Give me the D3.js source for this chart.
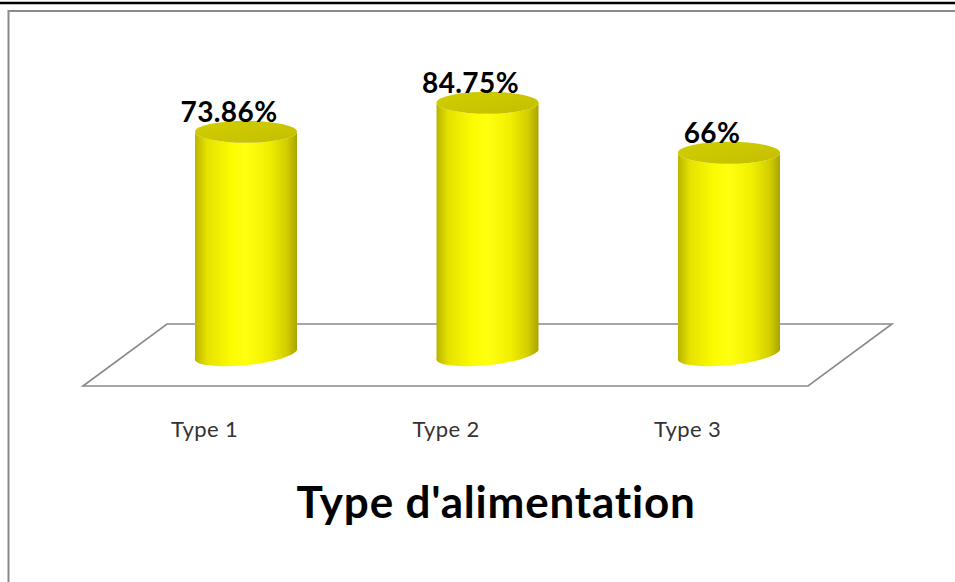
<!DOCTYPE html>
<html>
<head>
<meta charset="utf-8">
<script src="https://cdn.jsdelivr.net/npm/d3@7"></script>
<style>
  html, body { margin: 0; padding: 0; background: #ffffff; }
  svg { display: block; }
</style>
</head>
<body>
<svg id="chart" width="955" height="582"></svg>
<script>
// Data
const categories = ["Type 1", "Type 2", "Type 3"];
const values = [73.86, 84.75, 66];
const valueLabels = ["73.86%", "84.75%", "66%"];
const title = "Type d'alimentation";

const W = 955, H = 582;
const svg = d3.select("#chart");

// Frame: black rule across the top, grey chart border
svg.append("rect").attr("x", 0).attr("y", 0).attr("width", W).attr("height", H).attr("fill", "#ffffff");
svg.append("line").attr("x1", 0).attr("x2", W).attr("y1", 3).attr("y2", 3)
  .attr("stroke", "#000").attr("stroke-width", 2.5);
svg.append("path").attr("d", `M8.5,${H} V11 H${W}`)
  .attr("fill", "none").attr("stroke", "#8a8a8a").attr("stroke-width", 2);

// Scales
const x = d3.scalePoint().domain(categories).range([246, 729]);
const y = d3.scaleLinear().domain([0, 100]).range([329, 62]);

const rx = 51, ry = 11;
const baseY = 356;           // centre of the cylinders' bottom ellipse
const floorBack = 324, floorFront = 386;

// Floor of the 3D plot area
const floor = [[83, floorFront], [167, floorBack], [892, floorBack], [808, floorFront]];
svg.append("path")
  .attr("d", d3.line()(floor) + "Z")
  .attr("fill", "#ffffff").attr("stroke", "#8a8a8a").attr("stroke-width", 1.6);

// Gradients for the cylinder body and top
const defs = svg.append("defs");
const sideGrad = defs.append("linearGradient").attr("id", "side")
  .attr("x1", "0%").attr("x2", "100%").attr("y1", "0%").attr("y2", "0%");
[[0, "#b9b400"], [0.12, "#e6e200"], [0.35, "#fbfb00"], [0.5, "#ffff10"],
 [0.72, "#f2f000"], [0.9, "#d2cd00"], [1, "#aaa400"]]
  .forEach(([o, c]) => sideGrad.append("stop").attr("offset", o).attr("stop-color", c));
const capGrad = defs.append("linearGradient").attr("id", "cap")
  .attr("x1", "0%").attr("x2", "100%").attr("y1", "0%").attr("y2", "100%");
[[0, "#d2ce00"], [1, "#c4bf00"]]
  .forEach(([o, c]) => capGrad.append("stop").attr("offset", o).attr("stop-color", c));

// Cylinders
const bars = svg.append("g").selectAll("g").data(categories).join("g");
bars.append("path")
  .attr("d", (d, i) => {
    const cx = x(d), yt = y(values[i]);
    return `M${cx - rx},${yt} L${cx - rx},${baseY + 2} ` +
           `A${rx},${ry} -6 0 0 ${cx + rx},${baseY - 6} ` +
           `L${cx + rx},${yt} A${rx},${ry} 0 0 1 ${cx - rx},${yt} Z`;
  })
  .attr("fill", "url(#side)");
bars.append("ellipse")
  .attr("cx", d => x(d))
  .attr("cy", (d, i) => y(values[i]))
  .attr("rx", rx).attr("ry", ry)
  .attr("fill", "url(#cap)");

// Value labels
bars.append("text")
  .attr("x", d => x(d) - 17)
  .attr("y", (d, i) => y(values[i]) - 10)
  .attr("text-anchor", "middle")
  .attr("font-family", "Lato, 'Open Sans', sans-serif")
  .attr("font-weight", "bold")
  .attr("font-size", 28)
  .attr("letter-spacing", 0.4)
  .attr("fill", "#000")
  .text((d, i) => valueLabels[i]);

// Category axis labels
const axis = d3.axisBottom(x).tickSize(0).tickPadding(0);
const axisG = svg.append("g").attr("transform", "translate(-42,422)").call(axis);
axisG.select(".domain").remove();
axisG.selectAll("text")
  .attr("font-family", "Lato, 'Open Sans', sans-serif")
  .attr("font-size", 22)
  .attr("letter-spacing", 0.4)
  .attr("fill", "#333")
  .attr("dy", null).attr("y", 15);

// Axis title
svg.append("text")
  .attr("x", 496).attr("y", 518)
  .attr("text-anchor", "middle")
  .attr("font-family", "Lato, 'Open Sans', sans-serif")
  .attr("font-weight", "bold")
  .attr("font-size", 44)
  .attr("letter-spacing", 0.8)
  .attr("fill", "#000")
  .text(title);
</script>
</body>
</html>
